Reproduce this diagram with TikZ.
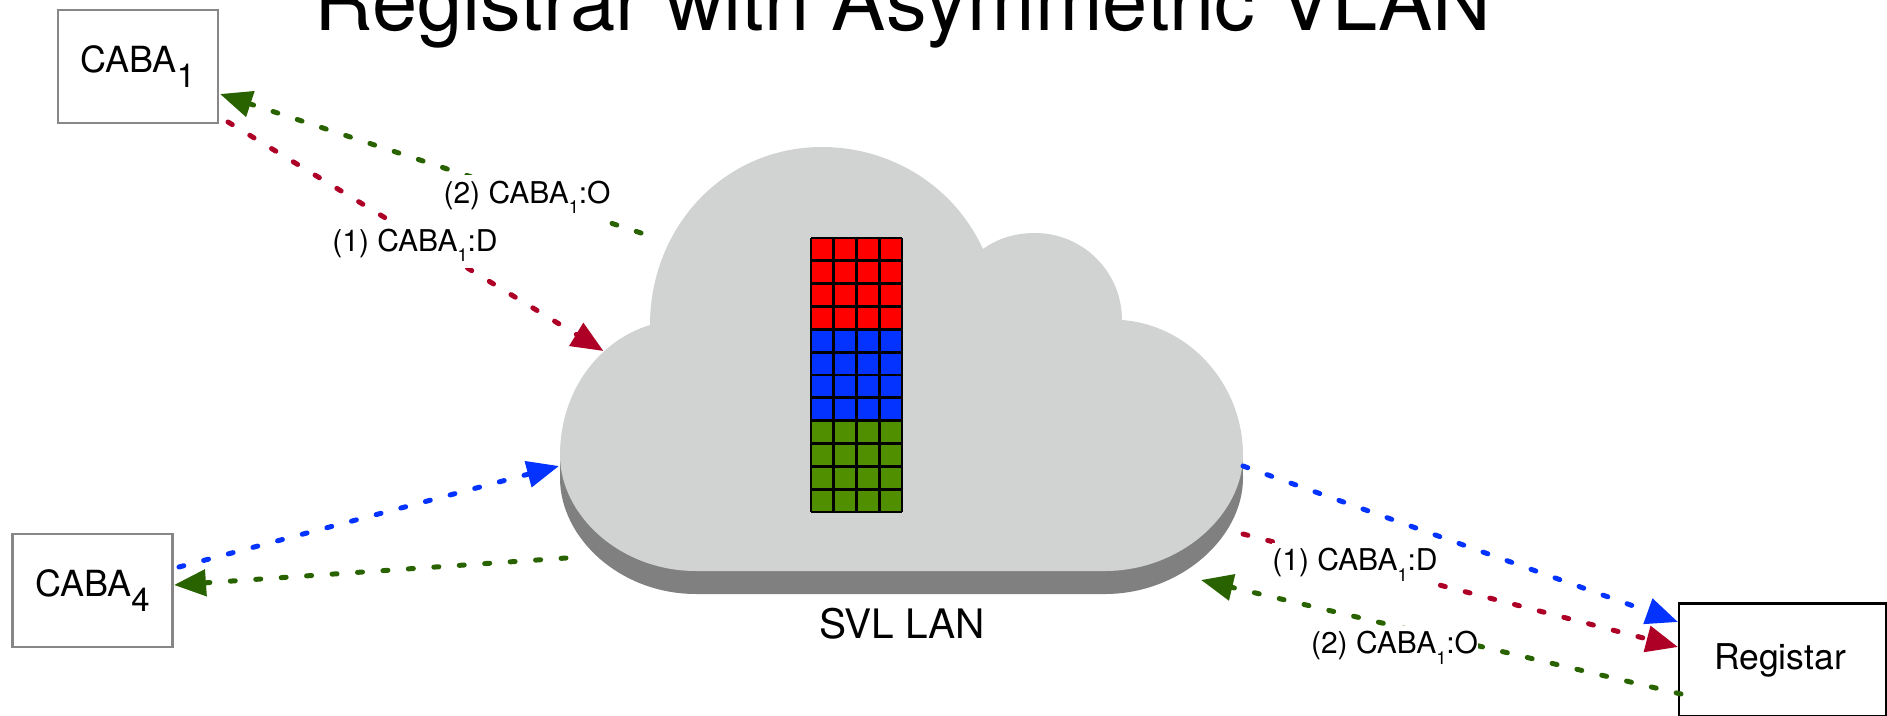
\documentclass[tikz,border=0pt]{standalone}
\usepackage{fontspec}
\setmainfont{TeX Gyre Heros}
\usetikzlibrary{arrows.meta}
\definecolor{vlanred}{HTML}{FF0000}
\definecolor{vlanblue}{HTML}{0433FF}
\definecolor{vlangreen}{HTML}{4F8F00}
\definecolor{linkred}{HTML}{AE0026}
\definecolor{linkgreen}{HTML}{296300}
\definecolor{cloudtop}{HTML}{D1D3D3}
\definecolor{cloudside}{HTML}{808080}
\tikzstyle{hostbox} = [draw=black!47,line width=2.5pt,fill=white,inner sep=0pt,minimum width=160pt,minimum height=113pt,font=\fontsize{36}{38}\selectfont]
\tikzstyle{regbox} = [hostbox,draw=black,font=\fontsize{35.5}{38}\selectfont]
\tikzstyle{linklabel} = [fill=white,inner sep=0pt,minimum height=45pt,font=\fontsize{30}{32}\selectfont]
\tikzstyle{link} = [line width=5pt,line cap=round,dash pattern=on 5pt off 20.5pt,-{Triangle[length=32pt,width=26pt]}]
\newcommand{\boxsub}[1]{\raisebox{-.41em}{\fontsize{33}{33}\selectfont #1}}
\newcommand{\labelsub}[1]{\raisebox{-.35em}{\fontsize{18}{18}\selectfont #1}}
\newcommand{\cloudpath}{(696,571) .. controls (620,571) and (560,515) .. (560,455)
  .. controls (560,390) and (600,340) .. (650,325)
  .. controls (650,227) and (724,147) .. (822,147)
  .. controls (891,147) and (954,186) .. (983,249)
  .. controls (998,238) and (1016,233) .. (1035,233)
  .. controls (1083,233) and (1122,272) .. (1122,320)
  .. controls (1190,325) and (1243,385) .. (1243,455)
  .. controls (1243,515) and (1180,571) .. (1105,571) -- cycle}

\begin{document}
\begin{tikzpicture}[x=1pt,y=-1pt]
        \useasboundingbox (0,0) rectangle (1887,715);

        % cloud
        \fill[cloudside,yshift=-23pt] \cloudpath;
        \fill[cloudside] (560,455) rectangle (1243,480);
        \fill[cloudtop] \cloudpath;

        % ports
        \fill[vlanred] (811,238) rectangle (902,329.3);
        \fill[vlanblue] (811,329.3) rectangle (902,420.6);
        \fill[vlangreen] (811,420.6) rectangle (902,512);
        \foreach \i in {0,...,4}
          \draw[line width=2.8pt] (811+\i*22.75,238) -- (811+\i*22.75,512);
        \foreach \i in {0,...,12}
          \draw[line width=2.8pt] (811,238+\i*22.83) -- (902,238+\i*22.83);

        \node (title) [anchor=base,font=\fontsize{81.3}{90}\selectfont] at (903,30) {Registrar with Asymmetric VLAN};
        \node (lan) [font=\fontsize{40.6}{44}\selectfont] at (902,624) {SVL LAN};

        \node (caba1) [hostbox] at (138,66.5) {\raisebox{1pt}{CABA\boxsub{1}}};
        \node (caba4) [hostbox] at (92.5,590.5) {CABA\boxsub{4}};
        \node (reg) [regbox,minimum width=207pt] at (1782.5,660) {Registar\kern5pt};

        % link ends
        \coordinate (c1out) at (228,122);
        \coordinate (c1in) at (220,94);
        \coordinate (nwout) at (641,233);
        \coordinate (nwin) at (603.5,351);
        \coordinate (c4out) at (179,567);
        \coordinate (c4in) at (174,585);
        \coordinate (wout) at (566,558);
        \coordinate (win) at (559,466);
        \coordinate (eblue) at (1243,466);
        \coordinate (ered) at (1243,534);
        \coordinate (ein) at (1201,580);
        \coordinate (rblue) at (1678,622);
        \coordinate (rred) at (1678,647);
        \coordinate (rout) at (1681,694);

        % links
        \draw[link,linkgreen] (nwout) -- (c1in);
        \draw[link,linkred] (c1out) -- (nwin);
        \draw[link,vlanblue] (c4out) -- (win);
        \draw[link,linkgreen] (wout) -- (c4in);
        \draw[link,vlanblue] (eblue) -- (rblue);
        \draw[link,linkred] (ered) -- (rred);
        \draw[link,linkgreen] (rout) -- (ein);

        % labels
        \node (o1) [linklabel] at (527,197.5) {(2) CABA\labelsub{1}:O};
        \node (d1) [linklabel] at (415,245.5) {(1) CABA\labelsub{1}:D};
        \node (d2) [linklabel] at (1355,565) {(1) CABA\labelsub{1}:D};
        \node (o2) [linklabel] at (1394.5,648) {(2) CABA\labelsub{1}:O};
\end{tikzpicture}
\end{document}
